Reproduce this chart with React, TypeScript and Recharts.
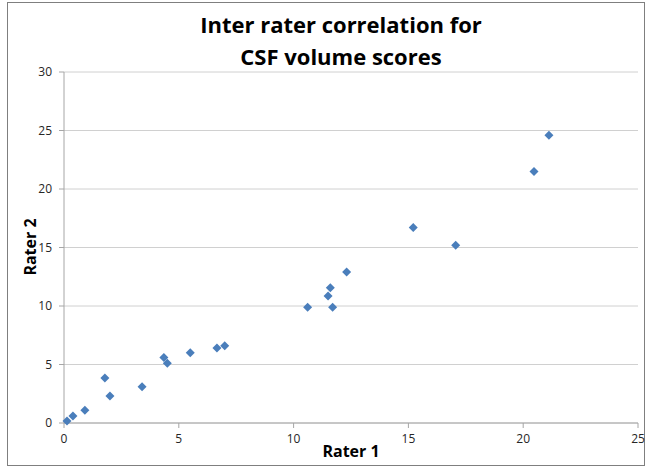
import React from "react";
import { ScatterChart, Scatter, XAxis, YAxis, CartesianGrid } from "recharts";

const rater1 = [0.13, 0.39, 0.91, 1.78, 2.0, 3.4, 4.35, 4.5, 5.5, 6.66, 7.0, 10.61, 11.5, 11.6, 11.7, 12.31, 15.21, 17.06, 20.47, 21.12];
const rater2 = [0.17, 0.6, 1.1, 3.85, 2.3, 3.1, 5.6, 5.1, 6.0, 6.4, 6.6, 9.89, 10.85, 11.56, 9.89, 12.9, 16.7, 15.2, 21.5, 24.6];
const xTicks = [0, 5, 10, 15, 20, 25];
const yTicks = [0, 5, 10, 15, 20, 25, 30];

const data = rater1.map((x, i) => ({ x, y: rater2[i] }));

const FONT = "'Open Sans', 'Liberation Sans', sans-serif";
const TICK = { fill: "#262626", fontSize: 12, fontFamily: FONT };

function Diamond(props: any) {
  const { cx, cy } = props;
  const r = 4.5;
  return (
    <path
      d={`M${cx},${cy - r} L${cx + r},${cy} L${cx},${cy + r} L${cx - r},${cy} Z`}
      fill="#4A7EBB"
    />
  );
}

export default function App() {
  return (
    <div style={{ position: "absolute", left: 0, top: 0, width: 647, height: 466, background: "#fff", fontFamily: FONT }}>
      <div
        style={{
          position: "absolute",
          left: 7,
          top: 2,
          width: 636,
          height: 462,
          border: "1px solid #7f7f7f",
        }}
      />
      <div
        style={{
          position: "absolute",
          left: 0,
          width: 682,
          top: 8,
          textAlign: "center",
          fontSize: 22,
          fontWeight: 700,
          lineHeight: "32px",
          color: "#000",
        }}
      >
        Inter rater correlation for
        <br />
        CSF volume scores
      </div>
      <div
        style={{
          position: "absolute",
          left: 30,
          top: 247,
          transform: "translate(-50%, -50%) rotate(-90deg)",
          fontSize: 16,
          fontWeight: 700,
          whiteSpace: "nowrap",
        }}
      >
        Rater 2
      </div>
      <div
        style={{
          position: "absolute",
          left: 351,
          top: 451,
          transform: "translate(-50%, -50%)",
          fontSize: 16,
          fontWeight: 700,
          whiteSpace: "nowrap",
        }}
      >
        Rater 1
      </div>
      <ScatterChart
        width={647}
        height={466}
        margin={{ top: 72, right: 9, left: 34, bottom: 13 }}
        style={{ position: "absolute", left: 0, top: 0 }}
      >
        <CartesianGrid horizontal vertical={false} stroke="#d0d0d0" />
        <XAxis
          type="number"
          dataKey="x"
          domain={[0, 25]}
          ticks={xTicks}
          tick={TICK}
          axisLine={{ stroke: "#a6a6a6" }}
          tickLine={{ stroke: "#a6a6a6" }}
          tickSize={5}
          tickMargin={6}
          height={30}
          interval={0}
        />
        <YAxis
          type="number"
          dataKey="y"
          domain={[0, 30]}
          ticks={yTicks}
          tick={TICK}
          axisLine={{ stroke: "#a6a6a6" }}
          tickLine={{ stroke: "#a6a6a6" }}
          tickSize={5}
          tickMargin={7}
          width={30}
          interval={0}
        />
        <Scatter data={data} shape={<Diamond />} isAnimationActive={false} />
      </ScatterChart>
    </div>
  );
}
